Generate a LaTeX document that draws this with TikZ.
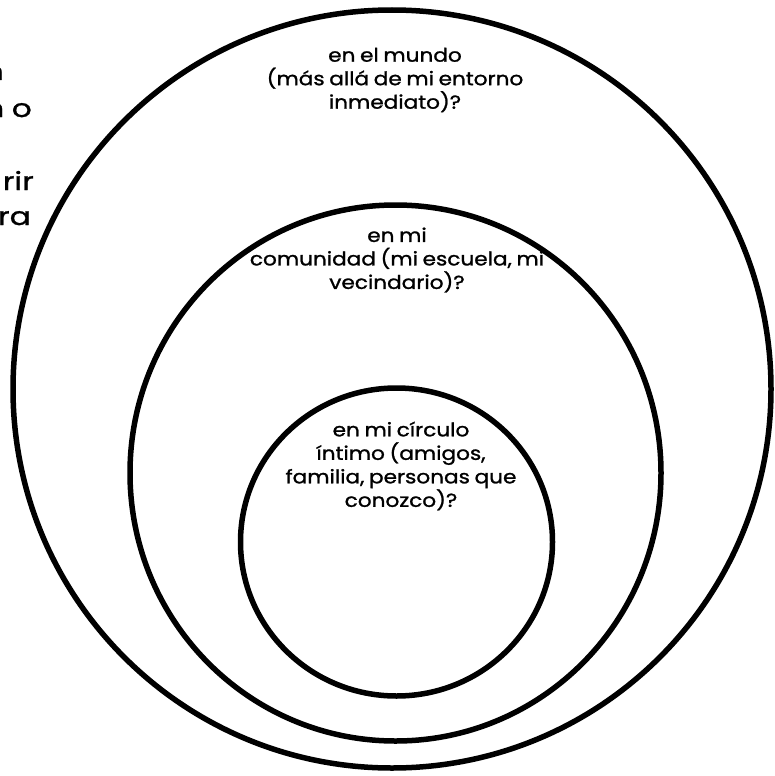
\documentclass[tikz,border=0pt]{standalone}
\usepackage{fontspec}
\setmainfont{Poppins}[FakeStretch=1.15, FakeBold=1.2, WordSpace=0.8]
\newfontfamily\sidefam{Poppins}[FakeStretch=1.25, FakeBold=1.2, WordSpace=0.9]
\usetikzlibrary{shapes.geometric}
\newcommand{\lblfont}{\fontsize{18.8}{23.5}\selectfont}
\newcommand{\sidefont}{\sidefam\fontsize{25}{37}\selectfont}
\begin{document}
\begin{tikzpicture}[x=1pt,y=-1pt,
  ring/.style={draw, line width=5.5pt, ellipse, inner sep=0pt},
  lbl/.style={align=center, font=\lblfont, inner sep=0pt},
  side/.style={anchor=base east, font=\sidefont, inner sep=0pt}]
\useasboundingbox (0,0) rectangle (775,776);
\fill[white] (0,0) rectangle (775,776);
\node[ring, minimum width=758pt, minimum height=758pt] (outer) at (392,389) {};
\node[ring, minimum width=531pt, minimum height=536pt] (middle) at (395.5,473) {};
\node[ring, minimum width=312pt, minimum height=308pt] (inner) at (396.5,542) {};
\node[lbl] (lout) at (395,80) {en el mundo\\(más allá de mi entorno\\inmediato)?};
\node[lbl] (lmid) at (397,260) {en mi\\comunidad (mi escuela, mi\\vecindario)?};
\node[lbl] (linn) at (401,466) {en mi círculo\\íntimo (amigos,\\familia, personas que\\conozco)?};
\node[side] (s1) at (4,80) {n};
\node[side] (s2) at (32,117) {n o};
\node[side] (s4) at (34,190) {rir};
\node[side] (s5) at (31,225) {ra};
\end{tikzpicture}
\end{document}
